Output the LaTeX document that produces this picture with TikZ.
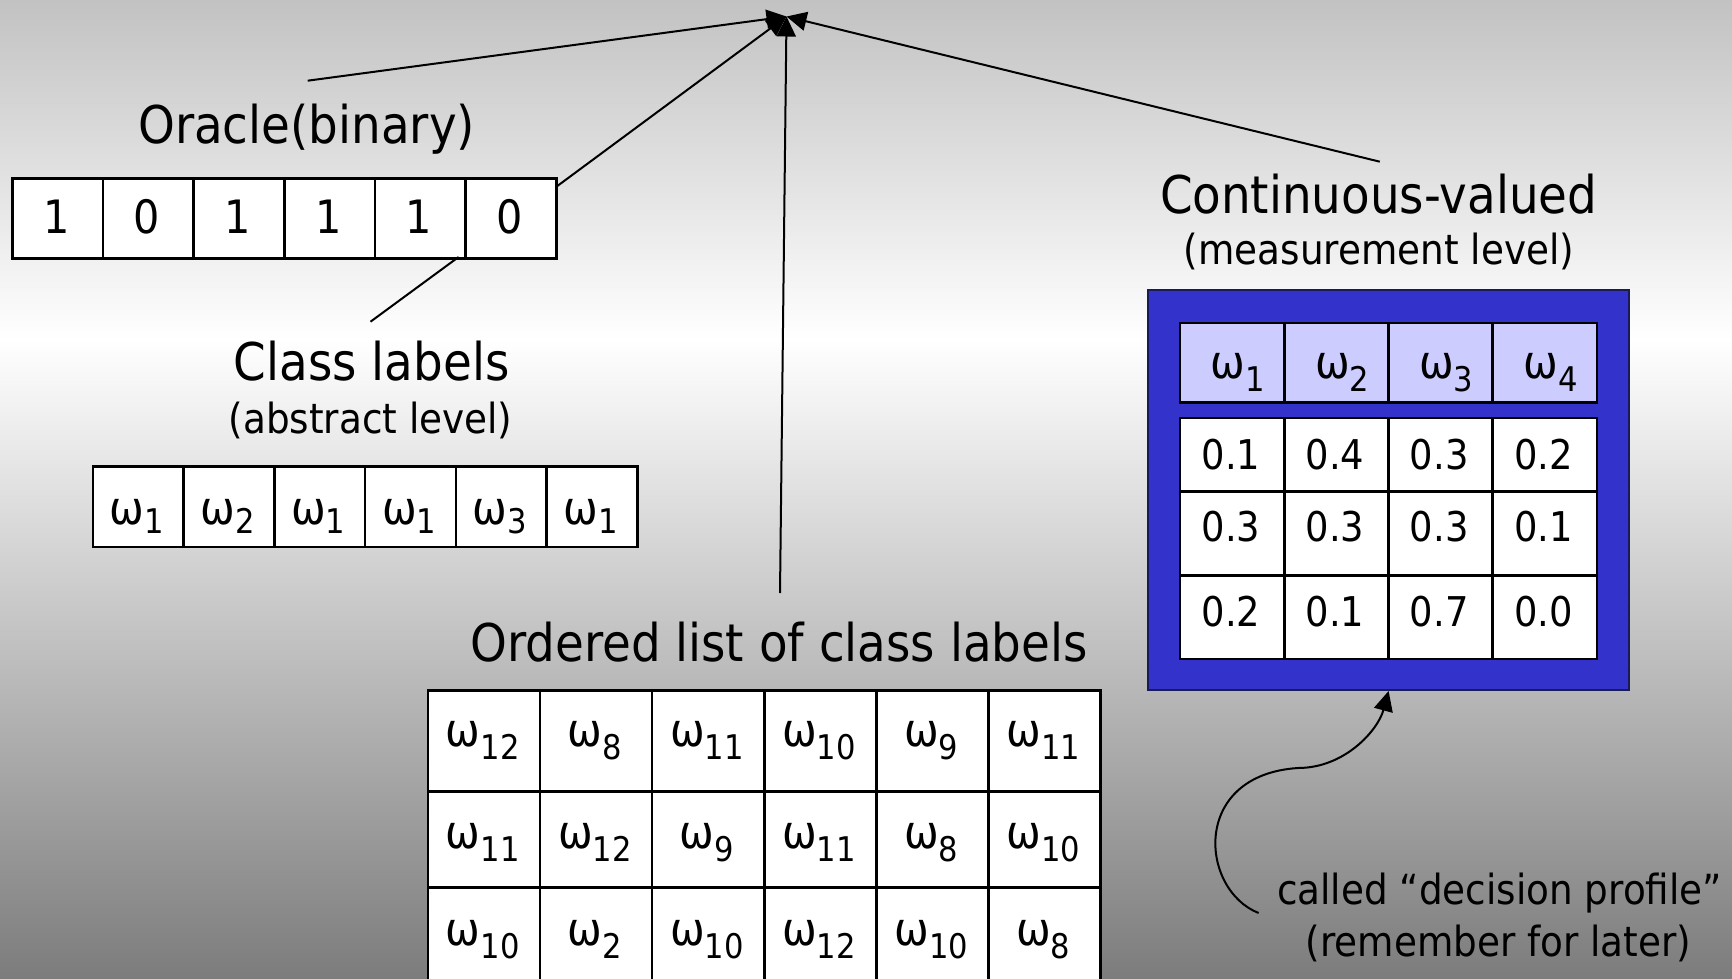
\documentclass[tikz,border=0pt]{standalone}
\usepackage{fontspec}
\setmainfont{DejaVu Sans Condensed}
\usetikzlibrary{arrows.meta}
\definecolor{bgtop}{HTML}{C2C2C2}
\definecolor{bgmid}{HTML}{FFFFFF}
\definecolor{bgbot}{HTML}{7C7C7C}
\definecolor{boxblue}{HTML}{3333CC}
\definecolor{boxedge}{HTML}{1A1A55}
\definecolor{hdrfill}{HTML}{CCCCFF}
\newcommand\headfnt{\fontsize{52}{57}\selectfont}
\newcommand\subfnt{\fontsize{41.5}{45}\selectfont}
\newcommand\omsub[2]{ω\raisebox{-#2pt}{\fontsize{34}{34}\selectfont #1}}
\begin{document}
\begin{tikzpicture}[x=1pt,y=-1pt,
  head/.style={font=\headfnt, inner sep=0pt, anchor=base},
  subtxt/.style={font=\subfnt, inner sep=0pt, anchor=base},
  cellbox/.style={draw=black, fill=white, line width=2.5pt, inner sep=0pt, anchor=north west},
  hdrbox/.style={cellbox, fill=hdrfill},
  omnode/.style={font=\fontsize{46}{46}\selectfont, inner sep=0pt, anchor=base},
  numnode/.style={font=\fontsize{41}{41}\selectfont, inner sep=0pt, anchor=base},
  conn/.style={draw=black, line width=2pt},
  arr/.style={conn, -{Triangle[length=20pt,width=19pt]}}
]
\useasboundingbox (0,0) rectangle (1732,979);
% background gradient
\shade[top color=bgtop, bottom color=bgmid] (0,0) rectangle (1732,340);
\shade[top color=bgmid, bottom color=bgbot] (0,339.5) rectangle (1732,979);

% ---------- Oracle ----------
\node[head] (oracle) at (306.6,143) {Oracle(binary)};
\foreach \v [count=\i] in {1,0,1,1,1,0}{
  \node[cellbox, minimum width=90.67pt, minimum height=80pt] (orc\i) at ({11+(\i-1)*90.67},177) {};
  \node[font=\fontsize{46}{46}\selectfont, inner sep=0pt, anchor=base] (orv\i) at ({11+(\i-0.5)*90.67},233.3) {\v};
}

% ---------- Class labels ----------
\node[head] (cls) at (371.7,380) {Class labels};
\node[subtxt] (clssub) at (370.5,433.3) {(abstract level)};
\foreach \s [count=\i] in {1,2,1,1,3,1}{
  \node[cellbox, minimum width=90.75pt, minimum height=80.7pt] (clc\i) at ({91.5+(\i-1)*90.75},465) {};
  \node[omnode] (clv\i) at ({91.5+(\i-0.5)*90.75},524) {\omsub{\s}{9}};
}

% ---------- Ordered list ----------
\node[head] (ord) at (779,661.7) {Ordered list of class labels};
\foreach \s [count=\i] in {12,8,11,10,9,11}{
  \node[cellbox, minimum width=112.1pt, minimum height=100.7pt] (oa\i) at ({426.7+(\i-1)*112.1},689.3) {};
  \node[omnode] (oat\i) at ({426.7+(\i-0.5)*112.1},746.5) {\omsub{\s}{13}};
}
\foreach \s [count=\i] in {11,12,9,11,8,10}{
  \node[cellbox, minimum width=112.1pt, minimum height=96pt] (ob\i) at ({426.7+(\i-1)*112.1},790) {};
  \node[omnode] (obt\i) at ({426.7+(\i-0.5)*112.1},848) {\omsub{\s}{13}};
}
\foreach \s [count=\i] in {10,2,10,12,10,8}{
  \node[cellbox, minimum width=112.1pt, minimum height=97pt] (oc\i) at ({426.7+(\i-1)*112.1},886) {};
  \node[omnode] (oct\i) at ({426.7+(\i-0.5)*112.1},945) {\omsub{\s}{13}};
}

% ---------- Continuous-valued ----------
\node[head] (cont) at (1378.6,213.3) {Continuous-valued};
\node[subtxt] (contsub) at (1379,264) {(measurement level)};
\node[draw=boxedge, fill=boxblue, line width=2pt, minimum width=480.6pt, minimum height=400pt, inner sep=0pt, anchor=north west] (dp) at (1147.3,289) {};
\foreach \s [count=\i] in {1,2,3,4}{
  \node[hdrbox, minimum width=104.2pt, minimum height=79.3pt] (hd\i) at ({1178.8+(\i-1)*104.2},321.7) {};
  \node[omnode] (hdt\i) at ({1185.8+(\i-0.5)*104.2},378) {\omsub{\s}{13}};
}
\foreach \v [count=\i] in {0.1,0.4,0.3,0.2}{
  \node[cellbox, minimum width=104.2pt, minimum height=73.3pt] (da\i) at ({1178.8+(\i-1)*104.2},416.7) {};
  \node[numnode] (dat\i) at ({1178.8+(\i-0.5)*104.2},469.3) {\v};
}
\foreach \v [count=\i] in {0.3,0.3,0.3,0.1}{
  \node[cellbox, minimum width=104.2pt, minimum height=84pt] (db\i) at ({1178.8+(\i-1)*104.2},490) {};
  \node[numnode] (dbt\i) at ({1178.8+(\i-0.5)*104.2},541.7) {\v};
}
\foreach \v [count=\i] in {0.2,0.1,0.7,0.0}{
  \node[cellbox, minimum width=104.2pt, minimum height=83.7pt] (dc\i) at ({1178.8+(\i-1)*104.2},574) {};
  \node[numnode] (dct\i) at ({1178.8+(\i-0.5)*104.2},626) {\v};
}

% ---------- Decision profile note ----------
\node[subtxt] (note1) at (1499.5,904) {called “decision profile”};
\node[subtxt] (note2) at (1498.5,956) {(remember for later)};

% ---------- connectors ----------
\coordinate (top) at (786.5,16.5);
\coordinate (a1) at (307.7,80.7);
\coordinate (a2) at (556,187);
\coordinate (a3) at (780,593);
\coordinate (a4) at (1379.8,161.7);
\coordinate (clfrom) at (458.6,257);
\coordinate (clto) at (370.5,321.7);
\coordinate (cstart) at (1258.6,913);

\draw[arr] (a1) -- (top);
\draw[arr] (a2) -- (top);
\draw[arr] (a3) -- (top);
\draw[arr] (a4) -- (top);
\draw[conn] (clfrom) -- (clto);
\draw[arr] (cstart) .. controls (1200,890) and (1190,775) .. (1298,768)
  .. controls (1345,768) and (1378,730) .. (dp.south);
\end{tikzpicture}
\end{document}
